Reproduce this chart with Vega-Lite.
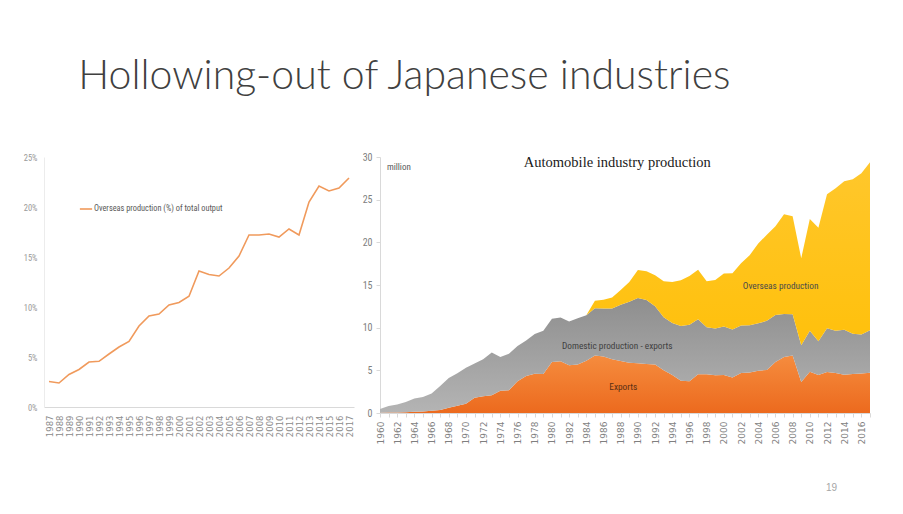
{
  "$schema": "https://vega.github.io/schema/vega-lite/v6.json",
  "background": "white",
  "padding": {"left": 23, "top": 56, "right": 0, "bottom": 0},
  "title": {
    "text": "Hollowing-out of Japanese industries",
    "anchor": "start",
    "dx": 55,
    "font": "Lato",
    "fontSize": 41,
    "fontWeight": 300,
    "color": "#404040",
    "offset": 54
  },
  "spacing": 8,
  "resolve": {"scale": {"color": "independent"}, "legend": {"color": "independent"}},
  "hconcat": [
    {
      "width": 310,
      "height": 250,
      "data": {
        "values": [
          {"year": "1987", "share": 2.55}, {"year": "1988", "share": 2.4}, {"year": "1989", "share": 3.25},
          {"year": "1990", "share": 3.75}, {"year": "1991", "share": 4.5}, {"year": "1992", "share": 4.57},
          {"year": "1993", "share": 5.3}, {"year": "1994", "share": 6.0}, {"year": "1995", "share": 6.55},
          {"year": "1996", "share": 8.1}, {"year": "1997", "share": 9.1}, {"year": "1998", "share": 9.3},
          {"year": "1999", "share": 10.2}, {"year": "2000", "share": 10.45}, {"year": "2001", "share": 11.07},
          {"year": "2002", "share": 13.6}, {"year": "2003", "share": 13.25}, {"year": "2004", "share": 13.1},
          {"year": "2005", "share": 13.9}, {"year": "2006", "share": 15.1}, {"year": "2007", "share": 17.2},
          {"year": "2008", "share": 17.2}, {"year": "2009", "share": 17.3}, {"year": "2010", "share": 17.0},
          {"year": "2011", "share": 17.8}, {"year": "2012", "share": 17.2}, {"year": "2013", "share": 20.5},
          {"year": "2014", "share": 22.1}, {"year": "2015", "share": 21.6}, {"year": "2016", "share": 21.9},
          {"year": "2017", "share": 22.9}
        ]
      },
      "mark": {"type": "line", "strokeWidth": 1.6},
      "encoding": {
        "x": {
          "field": "year",
          "type": "ordinal",
          "scale": {"type": "point", "padding": 0.5},
          "axis": {
            "title": null,
            "labelAngle": -90,
            "labelFont": "DejaVu Sans",
            "labelFontSize": 8.5,
            "labelColor": "#8c8c8c",
            "labelPadding": 8,
            "ticks": false,
            "domainColor": "#d9d9d9"
          }
        },
        "y": {
          "field": "share",
          "type": "quantitative",
          "scale": {"domain": [0, 25], "nice": false},
          "axis": {
            "title": null,
            "values": [0, 5, 10, 15, 20, 25],
            "labelExpr": "datum.value + '%'",
            "labelFont": "Liberation Sans Narrow, Roboto Condensed, Roboto, sans-serif",
            "labelFontSize": 8.5,
            "labelColor": "#999999",
            "labelPadding": 7,
            "ticks": false,
            "domainColor": "#ececec"
          }
        },
        "color": {
          "datum": "Overseas production (%) of total output",
          "type": "nominal",
          "scale": {"range": ["#F09A5C"]},
          "legend": {
            "title": null,
            "orient": "none",
            "legendX": 35,
            "legendY": 45,
            "symbolType": "stroke",
            "symbolSize": 150,
            "symbolStrokeWidth": 1.6,
            "labelFont": "Liberation Sans Narrow, Roboto Condensed, Roboto, sans-serif",
            "labelFontSize": 8.3,
            "labelColor": "#595959",
            "labelOffset": 1,
            "padding": 0
          }
        }
      }
    },
    {
      "width": 490,
      "height": 256,
      "resolve": {"axis": {"x": "independent", "y": "independent"}},
      "data": {
        "values": [
          {"year": 1960, "exports": 0.04, "home_market": 0.44, "overseas": 0},
          {"year": 1961, "exports": 0.06, "home_market": 0.75, "overseas": 0},
          {"year": 1962, "exports": 0.07, "home_market": 0.92, "overseas": 0},
          {"year": 1963, "exports": 0.10, "home_market": 1.18, "overseas": 0},
          {"year": 1964, "exports": 0.15, "home_market": 1.55, "overseas": 0},
          {"year": 1965, "exports": 0.19, "home_market": 1.69, "overseas": 0},
          {"year": 1966, "exports": 0.26, "home_market": 2.03, "overseas": 0},
          {"year": 1967, "exports": 0.36, "home_market": 2.79, "overseas": 0},
          {"year": 1968, "exports": 0.61, "home_market": 3.48, "overseas": 0},
          {"year": 1969, "exports": 0.86, "home_market": 3.81, "overseas": 0},
          {"year": 1970, "exports": 1.09, "home_market": 4.20, "overseas": 0},
          {"year": 1971, "exports": 1.78, "home_market": 4.03, "overseas": 0},
          {"year": 1972, "exports": 1.97, "home_market": 4.32, "overseas": 0},
          {"year": 1973, "exports": 2.07, "home_market": 5.01, "overseas": 0},
          {"year": 1974, "exports": 2.62, "home_market": 3.93, "overseas": 0},
          {"year": 1975, "exports": 2.68, "home_market": 4.26, "overseas": 0},
          {"year": 1976, "exports": 3.71, "home_market": 4.13, "overseas": 0},
          {"year": 1977, "exports": 4.35, "home_market": 4.16, "overseas": 0},
          {"year": 1978, "exports": 4.60, "home_market": 4.67, "overseas": 0},
          {"year": 1979, "exports": 4.56, "home_market": 5.08, "overseas": 0},
          {"year": 1980, "exports": 5.97, "home_market": 5.07, "overseas": 0},
          {"year": 1981, "exports": 6.05, "home_market": 5.13, "overseas": 0},
          {"year": 1982, "exports": 5.59, "home_market": 5.14, "overseas": 0},
          {"year": 1983, "exports": 5.67, "home_market": 5.44, "overseas": 0},
          {"year": 1984, "exports": 6.11, "home_market": 5.35, "overseas": 0},
          {"year": 1985, "exports": 6.73, "home_market": 5.54, "overseas": 0.89},
          {"year": 1986, "exports": 6.61, "home_market": 5.65, "overseas": 1.0},
          {"year": 1987, "exports": 6.31, "home_market": 5.94, "overseas": 1.28},
          {"year": 1988, "exports": 6.10, "home_market": 6.60, "overseas": 1.7},
          {"year": 1989, "exports": 5.88, "home_market": 7.15, "overseas": 2.33},
          {"year": 1990, "exports": 5.83, "home_market": 7.66, "overseas": 3.26},
          {"year": 1991, "exports": 5.75, "home_market": 7.50, "overseas": 3.35},
          {"year": 1992, "exports": 5.67, "home_market": 6.83, "overseas": 3.64},
          {"year": 1993, "exports": 5.02, "home_market": 6.21, "overseas": 4.2},
          {"year": 1994, "exports": 4.46, "home_market": 6.09, "overseas": 4.8},
          {"year": 1995, "exports": 3.79, "home_market": 6.41, "overseas": 5.36},
          {"year": 1996, "exports": 3.71, "home_market": 6.64, "overseas": 5.7},
          {"year": 1997, "exports": 4.55, "home_market": 6.43, "overseas": 5.8},
          {"year": 1998, "exports": 4.53, "home_market": 5.52, "overseas": 5.4},
          {"year": 1999, "exports": 4.41, "home_market": 5.49, "overseas": 5.7},
          {"year": 2000, "exports": 4.46, "home_market": 5.68, "overseas": 6.2},
          {"year": 2001, "exports": 4.17, "home_market": 5.61, "overseas": 6.6},
          {"year": 2002, "exports": 4.70, "home_market": 5.56, "overseas": 7.3},
          {"year": 2003, "exports": 4.76, "home_market": 5.53, "overseas": 8.2},
          {"year": 2004, "exports": 4.96, "home_market": 5.55, "overseas": 9.35},
          {"year": 2005, "exports": 5.05, "home_market": 5.75, "overseas": 10.1},
          {"year": 2006, "exports": 5.97, "home_market": 5.51, "overseas": 10.4},
          {"year": 2007, "exports": 6.55, "home_market": 5.05, "overseas": 11.7},
          {"year": 2008, "exports": 6.73, "home_market": 4.83, "overseas": 11.5},
          {"year": 2009, "exports": 3.62, "home_market": 4.31, "overseas": 10.2},
          {"year": 2010, "exports": 4.84, "home_market": 4.79, "overseas": 13.1},
          {"year": 2011, "exports": 4.46, "home_market": 3.94, "overseas": 13.3},
          {"year": 2012, "exports": 4.80, "home_market": 5.14, "overseas": 15.7},
          {"year": 2013, "exports": 4.68, "home_market": 4.95, "overseas": 16.7},
          {"year": 2014, "exports": 4.47, "home_market": 5.30, "overseas": 17.4},
          {"year": 2015, "exports": 4.58, "home_market": 4.70, "overseas": 18.1},
          {"year": 2016, "exports": 4.63, "home_market": 4.57, "overseas": 18.9},
          {"year": 2017, "exports": 4.71, "home_market": 4.98, "overseas": 19.7}
        ]
      },
      "layer": [
        {
          "transform": [
            {"fold": ["exports", "home_market", "overseas"], "as": ["series", "value"]},
            {"stack": "value", "groupby": ["year"], "sort": [{"field": "series", "order": "ascending"}], "as": ["v0", "v1"]}
          ],
          "encoding": {
            "x": {
              "field": "year",
              "type": "quantitative",
              "scale": {"domain": [1960, 2017], "nice": false, "zero": false},
              "axis": {
                "title": "19",
                "titleX": 451,
                "titleY": 74,
                "titleAlign": "center",
                "titleBaseline": "middle",
                "titleFont": "Liberation Sans",
                "titleFontSize": 10,
                "titleFontWeight": "normal",
                "titleColor": "#a6a6a6",
                "values": [1960, 1961, 1962, 1963, 1964, 1965, 1966, 1967, 1968, 1969, 1970, 1971, 1972, 1973, 1974, 1975, 1976, 1977, 1978, 1979, 1980, 1981, 1982, 1983, 1984, 1985, 1986, 1987, 1988, 1989, 1990, 1991, 1992, 1993, 1994, 1995, 1996, 1997, 1998, 1999, 2000, 2001, 2002, 2003, 2004, 2005, 2006, 2007, 2008, 2009, 2010, 2011, 2012, 2013, 2014, 2015, 2016, 2017],
                "labelExpr": "datum.value % 2 === 0 ? '' + datum.value : ''",
                "labelAngle": -90,
                "labelFont": "DejaVu Sans",
                "labelFontSize": 9,
                "labelColor": "#7f7f7f",
                "labelPadding": 4,
                "labelOverlap": false,
                "tickSize": 4,
                "tickColor": "#d9d9d9",
                "domainColor": "#d9d9d9"
              }
            },
            "y": {
              "field": "v1",
              "type": "quantitative",
              "scale": {"domain": [0, 30], "nice": false},
              "axis": {
                "title": null,
                "values": [0, 5, 10, 15, 20, 25, 30],
                "labelFont": "Liberation Sans Narrow, Roboto Condensed, Roboto, sans-serif",
                "labelFontSize": 10,
                "labelColor": "#808080",
                "labelPadding": 4,
                "tickSize": 4,
                "tickColor": "#d9d9d9",
                "domainColor": "#d9d9d9"
              }
            },
            "y2": {"field": "v0"}
          },
          "layer": [
            {
              "transform": [{"filter": "datum.series === 'exports'"}],
              "mark": {"type": "area", "color": {"gradient": "linear", "x1": 0, "y1": 0, "x2": 0, "y2": 1, "stops": [{"offset": 0, "color": "#F58C3E"}, {"offset": 1, "color": "#EC6A1E"}]}}
            },
            {
              "transform": [{"filter": "datum.series === 'home_market'"}],
              "mark": {"type": "area", "color": {"gradient": "linear", "x1": 0, "y1": 0, "x2": 0, "y2": 1, "stops": [{"offset": 0, "color": "#8E8E8E"}, {"offset": 1, "color": "#B4B4B4"}]}}
            },
            {
              "transform": [{"filter": "datum.series === 'overseas'"}],
              "mark": {"type": "area", "color": {"gradient": "linear", "x1": 0, "y1": 0, "x2": 0, "y2": 1, "stops": [{"offset": 0, "color": "#FFC72C"}, {"offset": 1, "color": "#FFBE00"}]}}
            }
          ]
        },
        {
          "data": {"values": [{}]},
          "mark": {"type": "text", "align": "center", "baseline": "middle", "font": "Liberation Sans Narrow, Roboto Condensed, Roboto, sans-serif", "fontSize": 9.3, "color": "#4a4a4a"},
          "encoding": {"x": {"datum": 2006.6, "axis": null}, "y": {"datum": 14.85, "axis": null}, "text": {"value": "Overseas production"}}
        },
        {
          "data": {"values": [{}]},
          "mark": {"type": "text", "align": "center", "baseline": "middle", "font": "Liberation Sans Narrow, Roboto Condensed, Roboto, sans-serif", "fontSize": 9.3, "color": "#404040"},
          "encoding": {"x": {"datum": 1987.6, "axis": null}, "y": {"datum": 7.9, "axis": null}, "text": {"value": "Domestic production - exports"}}
        },
        {
          "data": {"values": [{}]},
          "mark": {"type": "text", "align": "center", "baseline": "middle", "font": "Liberation Sans Narrow, Roboto Condensed, Roboto, sans-serif", "fontSize": 9.3, "color": "#5a2f14"},
          "encoding": {"x": {"datum": 1988.3, "axis": null}, "y": {"datum": 3.0, "axis": null}, "text": {"value": "Exports"}}
        },
        {
          "data": {"values": [{}]},
          "mark": {"type": "text", "align": "left", "baseline": "middle", "font": "Liberation Sans Narrow, Roboto Condensed, Roboto, sans-serif", "fontSize": 9, "color": "#595959"},
          "encoding": {"x": {"datum": 1960.8, "axis": null}, "y": {"datum": 28.8, "axis": null}, "text": {"value": "million"}}
        },
        {
          "data": {"values": [{}]},
          "mark": {"type": "text", "align": "center", "baseline": "middle", "font": "Liberation Serif", "fontSize": 14.5, "color": "#1a1a1a"},
          "encoding": {"x": {"datum": 1987.6, "axis": null}, "y": {"datum": 29.25, "axis": null}, "text": {"value": "Automobile industry production"}}
        }
      ]
    }
  ],
  "config": {
    "view": {"stroke": null},
    "axis": {"grid": false, "labelOverlap": false, "labelFlush": false, "labelBound": false}
  }
}
